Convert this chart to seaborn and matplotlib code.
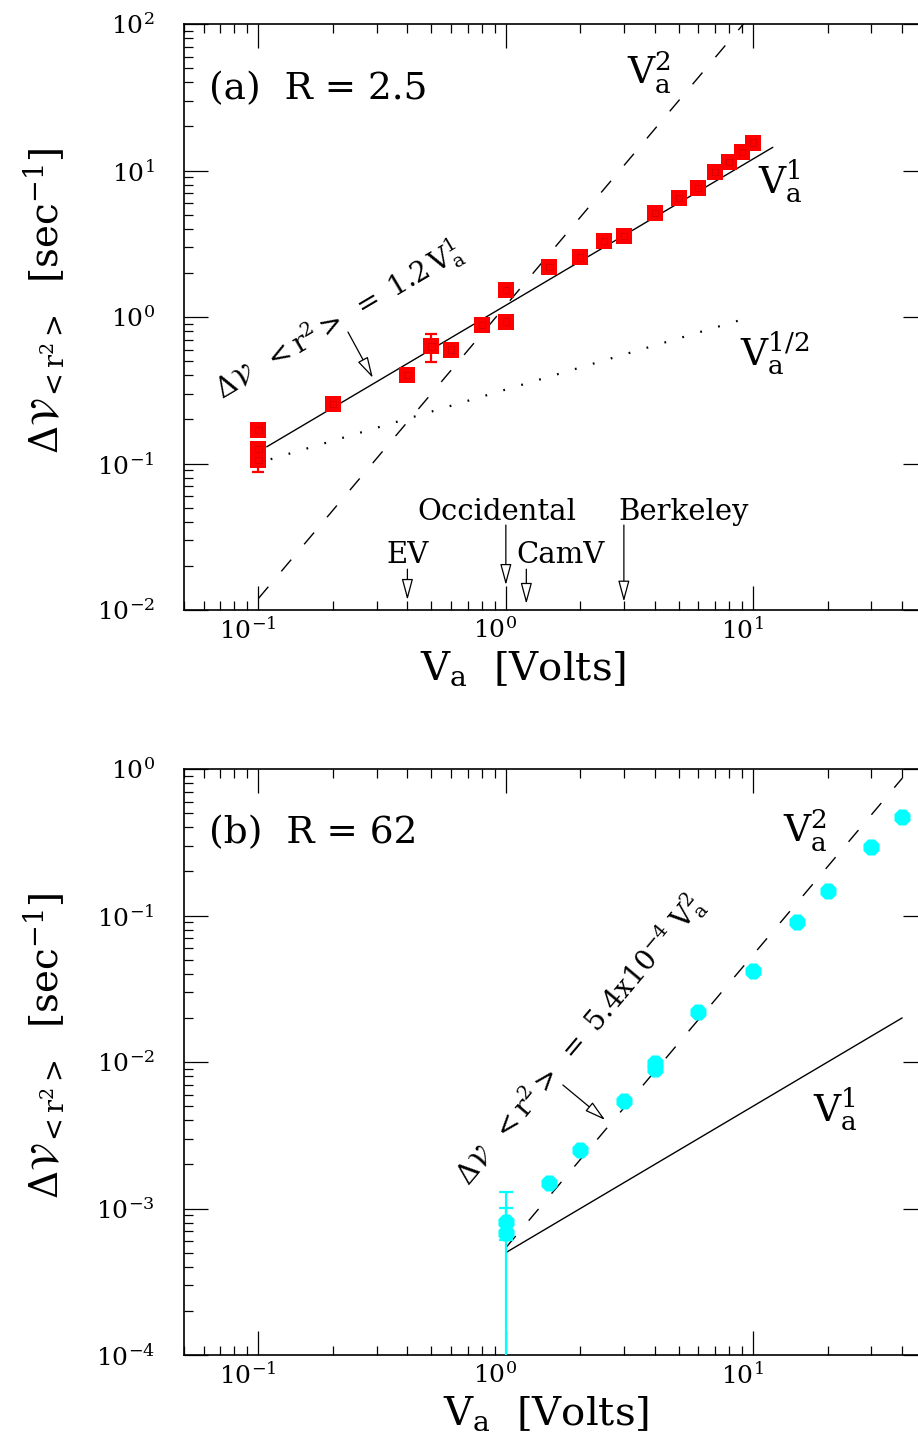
import matplotlib
matplotlib.use('Agg')
import matplotlib.pyplot as plt
import matplotlib.ticker as mticker
import matplotlib.transforms as mtransforms
import pandas as pd
import seaborn as sns

# ---------------- data ----------------
# panel (a) R = 2.5 : red squares
a_volts = [0.1, 0.1, 0.1, 0.2, 0.4, 0.5, 0.6, 0.8, 1.0, 1.0, 1.5, 2.0, 2.5, 3.0,
           4.0, 5.0, 6.0, 7.0, 8.0, 9.0, 10.0]
a_rate = [0.17, 0.125, 0.106, 0.254, 0.40, 0.63, 0.60, 0.88, 0.93, 1.53, 2.2, 2.55,
          3.32, 3.59, 5.15, 6.5, 7.6, 9.8, 11.4, 13.4, 15.5]
a_err_volts = [0.1, 0.5]
a_err_rate = [0.106, 0.63]
a_err = [0.018, 0.14]

# panel (b) R = 62 : cyan circles
b_volts = [1.0, 1.0, 1.5, 2.0, 3.0, 4.0, 4.0, 6.0, 10.0, 15.0, 20.0, 30.0, 40.0]
b_rate = [0.00081, 0.00068, 0.0015, 0.0025, 0.0054, 0.0098, 0.0090, 0.022, 0.042,
          0.090, 0.148, 0.295, 0.468]
b_err_volts = [1.0, 1.0]
b_err_rate = [0.00081, 0.00068]
b_err = [0.0002, 0.00062]

# guide power laws (end points)
a_v1_x = [0.108, 12.0]
a_v1_y = [0.130, 14.4]
a_v2_x = [0.1, 10.0]
a_v2_y = [0.012, 120.0]
a_vh_x = [0.112, 9.5]
a_vh_y = [0.107, 0.986]
b_v2_x = [1.0, 40.0]
b_v2_y = [0.00054, 0.864]
b_v1_x = [1.0, 40.0]
b_v1_y = [0.0005, 0.02]

# instrument markers (panel a)
instr_names = ['EV', 'Occidental', 'CamV', 'Berkeley']
instr_volts = [0.4, 1.0, 1.21, 3.0]
instr_tail = [0.019, 0.038, 0.019, 0.038]
instr_tip = [0.0117, 0.0148, 0.011, 0.0114]
instr_text_x = [0.40, 0.917, 1.66, 5.25]
instr_text_y = [0.0209, 0.041, 0.0209, 0.041]

x_ticks = [0.1, 1.0, 10.0]
a_yticks = [1e-2, 1e-1, 1e0, 1e1, 1e2]
b_yticks = [1e-4, 1e-3, 1e-2, 1e-1, 1e0]

# ---------------- style ----------------
sns.set_style('ticks')
plt.rcParams['font.family'] = ['DejaVu Serif', 'DejaVu Sans']
plt.rcParams['mathtext.fontset'] = 'dejavuserif'
for k in ['text.color', 'axes.labelcolor', 'xtick.color', 'ytick.color',
          'axes.edgecolor']:
    plt.rcParams[k] = 'black'

W, H, DPI = 918, 1448, 100
fig = plt.figure(figsize=(W / DPI, H / DPI), dpi=DPI)
fig.patch.set_facecolor('white')

left = 184 / W
width = (927 - 184) / W
hgt = 586 / H
ax_a = fig.add_axes([left, (H - 610) / H, width, hgt])
ax_b = fig.add_axes([left, (H - 1355) / H, width, hgt])

RED = '#ff0000'
CYAN = '#00ffff'
dash = (0, (11, 14.5))
dots = (0, (0.8, 7.6))
head = '-|>,head_length=1.3,head_width=0.35'


def style_axes(ax, ylim, yticks, xlab_x):
    ax.set_xscale('log')
    ax.set_yscale('log')
    ax.set_xlim(0.05, 50.4)
    ax.set_ylim(*ylim)
    ax.set_facecolor('white')
    ax.xaxis.set_major_locator(mticker.FixedLocator(x_ticks))
    ax.yaxis.set_major_locator(mticker.FixedLocator(yticks))
    ax.xaxis.set_minor_locator(mticker.LogLocator(base=10, subs=range(2, 10)))
    ax.yaxis.set_minor_locator(mticker.LogLocator(base=10, subs=range(2, 10)))
    ax.xaxis.set_major_formatter(mticker.LogFormatterSciNotation())
    ax.yaxis.set_major_formatter(mticker.LogFormatterSciNotation())
    ax.xaxis.set_minor_formatter(mticker.NullFormatter())
    ax.yaxis.set_minor_formatter(mticker.NullFormatter())
    ax.tick_params(which='both', direction='in', top=True, right=True,
                   colors='black', width=0.9)
    ax.tick_params(which='major', length=17, labelsize=18)
    ax.tick_params(which='minor', length=6.5)
    ax.tick_params(axis='y', which='major', pad=21)
    ax.tick_params(axis='x', which='major', pad=5)
    for s in ax.spines.values():
        s.set_linewidth(1.2)
        s.set_color('black')
    ax.set_xlabel(r'$\mathrm{V}_{\mathrm{a}}\ \ [\mathrm{Volts}]$', fontsize=29)
    ax.set_ylabel(r'$\Delta\mathcal{V}_{{<}\mathrm{r}^{2}{>}}\ \ [\mathrm{sec}^{-1}]$',
                  fontsize=28)
    ax.xaxis.set_label_coords(xlab_x, -0.068)
    ax.yaxis.set_label_coords(-0.157, 0.527)
    off = mtransforms.ScaledTranslation(-11 / DPI, 0, fig.dpi_scale_trans)
    for lab in ax.get_xticklabels():
        lab.set_transform(lab.get_transform() + off)


# ---------------- panel (a) ----------------
ax = ax_a
style_axes(ax, (1e-2, 1e2), a_yticks, 0.456)
sns.lineplot(x=a_v1_x, y=a_v1_y, ax=ax, color='black', lw=1.0, estimator=None, sort=False)
sns.lineplot(x=a_v2_x, y=a_v2_y, ax=ax, color='black', lw=1.0, linestyle=dash,
             estimator=None, sort=False)
sns.lineplot(x=a_vh_x, y=a_vh_y, ax=ax, color='black', lw=1.6, linestyle=dots,
             estimator=None, sort=False)
ax.errorbar(a_err_volts, a_err_rate, yerr=a_err, fmt='none', ecolor=RED,
            elinewidth=1.6, capsize=4.5, capthick=1.6, zorder=3)
sns.scatterplot(x=a_volts, y=a_rate, ax=ax, marker='s', s=12.2 ** 2, color=RED,
                linewidth=0, zorder=4)
sns.scatterplot(x=a_volts, y=a_rate, ax=ax, marker='s', s=4.5 ** 2, facecolor='none',
                edgecolor='#d80000', linewidth=0.6, zorder=5)

ax.text(0.033, 0.872, '(a)  R = 2.5', transform=ax.transAxes, fontsize=27,
        ha='left', va='baseline')
ax.text(3.09, 39.5, r'$\mathrm{V}_{\mathrm{a}}^{2}$', fontsize=27, ha='left', va='baseline')
ax.text(10.5, 7.05, r'$\mathrm{V}_{\mathrm{a}}^{1}$', fontsize=27, ha='left', va='baseline')
ax.text(8.83, 0.47, r'$\mathrm{V}_{\mathrm{a}}^{1/2}$', fontsize=27, ha='left', va='baseline')
ax.text(0.212, 0.94,
        r'$\Delta\mathcal{V}\ \ {<}\mathrm{r}^{2}{>}\ =\ 1.2\,\mathrm{V}_{\mathrm{a}}^{1}$',
        fontsize=20, rotation=30.6, rotation_mode='anchor', ha='center', va='center')
ax.annotate('', xy=(0.29, 0.384), xytext=(0.23, 0.79),
            arrowprops=dict(arrowstyle=head, fc='white', ec='black', lw=0.9,
                            shrinkA=0, shrinkB=0, mutation_scale=10))
for name, v, t0, t1, tx, ty in zip(instr_names, instr_volts, instr_tail, instr_tip,
                                   instr_text_x, instr_text_y):
    ax.annotate('', xy=(v, t1), xytext=(v, t0),
                arrowprops=dict(arrowstyle=head, fc='white', ec='black', lw=0.9,
                                shrinkA=0, shrinkB=0, mutation_scale=10))
    ax.text(tx, ty, name, fontsize=21, ha='center', va='baseline')

# ---------------- panel (b) ----------------
ax = ax_b
style_axes(ax, (1e-4, 1e0), b_yticks, 0.487)
sns.lineplot(x=b_v1_x, y=b_v1_y, ax=ax, color='black', lw=1.0, estimator=None, sort=False)
sns.lineplot(x=b_v2_x, y=b_v2_y, ax=ax, color='black', lw=1.0, linestyle=dash,
             estimator=None, sort=False)
ax.errorbar(b_err_volts, b_err_rate, yerr=b_err, fmt='none', ecolor=CYAN,
            elinewidth=1.6, capsize=4.7, capthick=1.6, zorder=3)
sns.scatterplot(x=b_volts, y=b_rate, ax=ax, marker='8', s=12.5 ** 2, color=CYAN,
                linewidth=0, zorder=4)

ax.text(0.033, 0.874, '(b)  R = 62', transform=ax.transAxes, fontsize=27,
        ha='left', va='baseline')
ax.text(13.2, 0.319, r'$\mathrm{V}_{\mathrm{a}}^{2}$', fontsize=27, ha='left', va='baseline')
ax.text(17.5, 0.00392, r'$\mathrm{V}_{\mathrm{a}}^{1}$', fontsize=27, ha='left', va='baseline')
ax.text(2.0, 0.0141,
        r'$\Delta\mathcal{V}\ \ {<}\mathrm{r}^{2}{>}\ =\ 5.4\mathrm{x}10^{-4}\ \mathrm{V}_{\mathrm{a}}^{2}$',
        fontsize=20, rotation=50, rotation_mode='anchor', ha='center', va='center')
ax.annotate('', xy=(2.52, 0.00402), xytext=(1.70, 0.00697),
            arrowprops=dict(arrowstyle=head, fc='white', ec='black', lw=0.9,
                            shrinkA=0, shrinkB=0, mutation_scale=10))

fig.savefig('out.png', dpi=DPI, facecolor='white')
